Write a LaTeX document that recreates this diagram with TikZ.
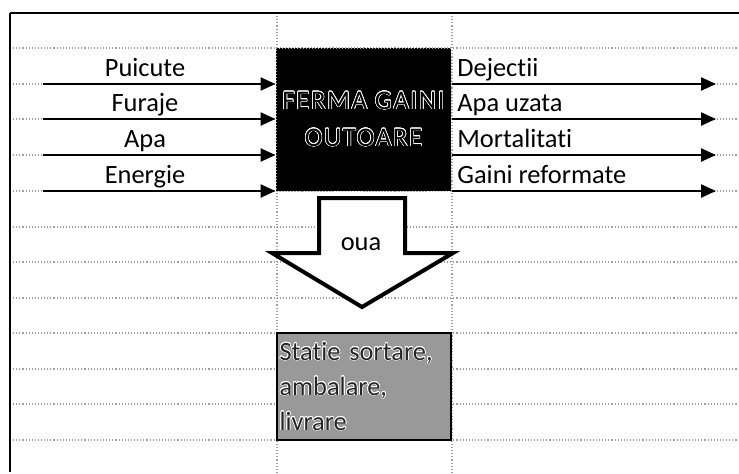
\documentclass[tikz,border=0pt]{standalone}
\usepackage{fontspec}
\setmainfont[Ligatures=NoCommon]{Carlito}
\usepackage{contour}
\contourlength{0.3pt}
\contournumber{20}
\usetikzlibrary{arrows.meta}

\tikzset{
  grid line/.style={gray!75, densely dotted, line width=0.55pt},
  flow/.style={line width=1.2pt, -{Triangle[length=7.5pt,width=6.5pt]}},
  sheet font/.style={font=\fontsize{13.2}{15}\selectfont},
  label in/.style={sheet font, anchor=base, inner sep=0pt},
  label out/.style={sheet font, anchor=base west, inner sep=0pt},
  ferma box/.style={fill=black, draw=gray!60, densely dotted, line width=0.5pt,
    minimum width=87.5pt, minimum height=71.5pt, inner sep=0pt, align=center,
    font=\fontsize{13.4}{16}\selectfont\addfontfeature{LetterSpace=6}, text=black},
  statie box/.style={fill=black!40, draw=black, line width=1pt,
    minimum width=87pt, minimum height=53.5pt, inner sep=1.5pt,
    text width=84pt, align=left, font=\fontsize{13.2}{17.5}\selectfont, text=black!85},
  block arrow/.style={draw=black, fill=white, line width=2pt, miter limit=10}
}

\begin{document}
\begin{tikzpicture}[x=0.5pt, y=-0.5pt]
\useasboundingbox (0,0) rectangle (739,473);

% sheet grid
\foreach \y in {48,84,119,155,191,227,262,298,333,369,404,440}
  \draw[grid line] (10,\y) -- (739,\y);
\foreach \x in {277,452}
  \draw[grid line] (\x,13) -- (\x,473);
\draw[line width=0.7pt] (10,13) -- (739,13);
\draw[line width=1.1pt] (10,13) -- (10,472);

% farm and sorting station
\node[ferma box] (ferma) at (363.5,119.5)
  {\contour{white}{FERMA\ GAINI}\\[2.5pt]\contour{white}{OUTOARE}};
\node[statie box] (statie) at (363.5,386.5)
  {\contour{white}{Statie sortare,}\\\contour{white}{ambalare,}\\\contour{white}{livrare}};

% inputs
\foreach \y/\txt [count=\i] in {84/Puicute,119/Furaje,155/Apa,191/Energie} {
  \coordinate (in\i) at (43,\y);
  \draw[flow] (in\i) -- (in\i -| ferma.west);
  \node[label in] (lin\i) at (145,\y-8) {\txt};
}

% outputs
\foreach \y/\txt [count=\i] in {84/Dejectii,119/Apa uzata,155/Mortalitati,191/Gaini reformate} {
  \coordinate (out\i) at (716,\y);
  \draw[flow] (ferma.east |- out\i) -- (out\i);
  \node[label out] (lout\i) at (457,\y-8) {\txt};
}

% eggs
\draw[block arrow] (319,198) -- (405,198) -- (405,253) -- (453,253) -- (362,307)
  -- (272,253) -- (319,253) -- cycle;
\node[sheet font, anchor=base, inner sep=0pt] (oua) at (361,250) {oua};

\end{tikzpicture}
\end{document}
